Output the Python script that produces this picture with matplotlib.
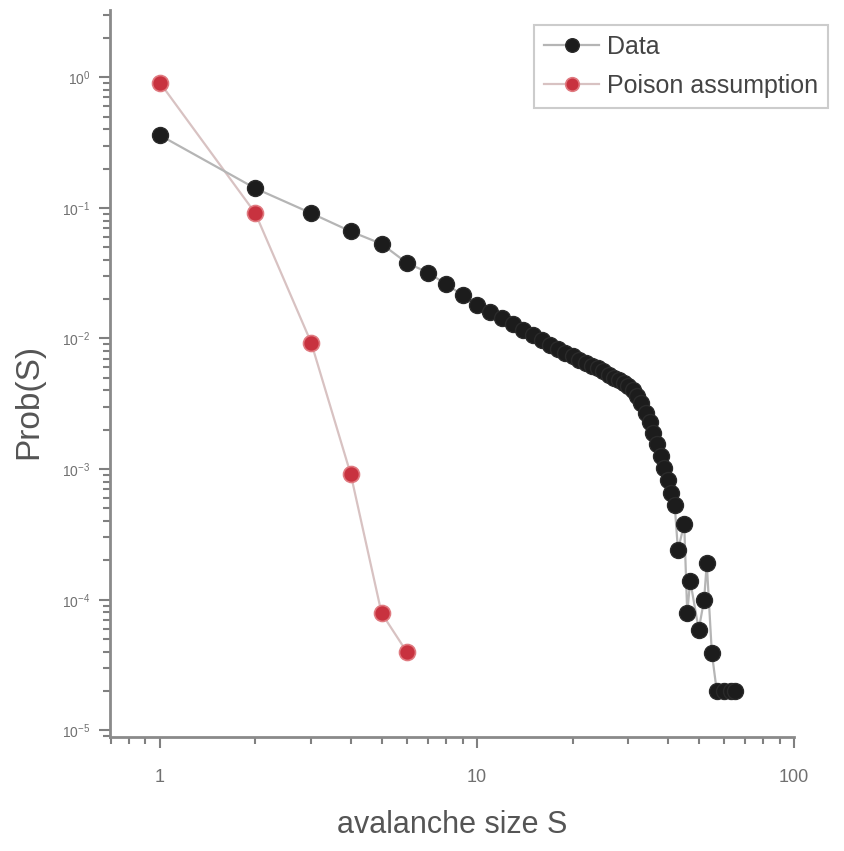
import numpy as np
import matplotlib.pyplot as plt
from matplotlib.ticker import LogLocator, FuncFormatter, NullFormatter

plt.rcParams['font.family'] = ['Liberation Sans', 'DejaVu Sans']

# datos
data_s = [1, 2, 3, 4, 5, 6, 7, 8, 9, 10,
          11, 12, 13, 14, 15, 16, 17, 18, 19, 20,
          21, 22, 23, 24, 25, 26, 27, 28, 29, 30,
          31, 32, 33, 34, 35, 36, 37, 38, 39, 40,
          41, 42, 43, 45, 46, 47, 50, 52, 53, 55,
          57, 60, 63, 65]
data_p = [0.36, 0.141, 0.091, 0.066, 0.053, 0.038, 0.032, 0.026, 0.0215, 0.0182,
          0.0160, 0.0144, 0.0129, 0.0116, 0.0106, 0.0097, 0.0089, 0.0083, 0.0078, 0.0073,
          0.0069, 0.0065, 0.0062, 0.0059, 0.0056, 0.0053, 0.0050, 0.0048, 0.0046, 0.0043,
          0.0040, 0.0036, 0.0032, 0.0027, 0.0023, 0.0019, 0.00155, 0.00125, 0.00102, 0.00083,
          0.00066, 0.00053, 0.00024, 0.00038, 0.000079, 0.00014, 0.000059, 0.00010, 0.00019, 0.000039,
          0.00002, 0.00002, 0.00002, 0.00002]

poisson_s = [1, 2, 3, 4, 5, 6]
poisson_p = [0.91, 0.091, 0.0093, 0.00091, 0.000079, 0.00004]

fig = plt.figure(figsize=(8.44, 8.51), dpi=100)
ax = fig.add_axes([0.130, 0.134, 0.811, 0.854])

ax.plot(data_s, data_p, color='#b5b5b5', lw=1.6, marker='o', ms=11.5,
        mfc='#1c1c1c', mec='#2a2a2a', mew=1, label='Data', zorder=3)
ax.plot(poisson_s, poisson_p, color='#d8c2c2', lw=1.6, marker='o', ms=11.5,
        mfc='#c8323f', mec='#e07a80', mew=1.2, label='Poison assumption', zorder=2)

ax.set_xscale('log')
ax.set_yscale('log')
ax.set_xlim(0.695, 100)
ax.set_ylim(8.9e-6, 3.26)

ax.xaxis.set_major_formatter(FuncFormatter(lambda v, p: f'{v:g}'))
ax.xaxis.set_minor_formatter(NullFormatter())
ax.yaxis.set_major_locator(LogLocator(base=10, numticks=10))
ax.yaxis.set_minor_locator(LogLocator(base=10, subs=np.arange(2, 10), numticks=10))
ax.yaxis.set_minor_formatter(NullFormatter())

for side in ['top', 'right']:
    ax.spines[side].set_visible(False)
for side in ['left', 'bottom']:
    ax.spines[side].set_color('#8a8a8a')
    ax.spines[side].set_linewidth(2)

ax.tick_params(which='major', direction='out', length=8, width=1.5, color='#808080',
               labelcolor='#707070')
ax.tick_params(which='minor', direction='out', length=5, width=1.5, color='#808080')
ax.tick_params(axis='x', labelsize=13, pad=15)
ax.tick_params(axis='y', labelsize=10, pad=6)

ax.set_xlabel('avalanche size S', fontsize=22, color='#555555', labelpad=17)
ax.set_ylabel('Prob(S)', fontsize=24, color='#555555')
ax.yaxis.set_label_coords(-0.096, 0.461)

leg = ax.legend(loc='upper left', bbox_to_anchor=(0.62, 0.98), fontsize=18,
                frameon=True, fancybox=False, handlelength=2.2, borderpad=0.4,
                labelspacing=0.6, handletextpad=0.3, markerscale=0.85,
                borderaxespad=0)
leg.get_frame().set_edgecolor('#c0c0c0')
leg.get_frame().set_linewidth(1.5)
for t in leg.get_texts():
    t.set_color('#444444')

fig.savefig('out.png', dpi=100)
